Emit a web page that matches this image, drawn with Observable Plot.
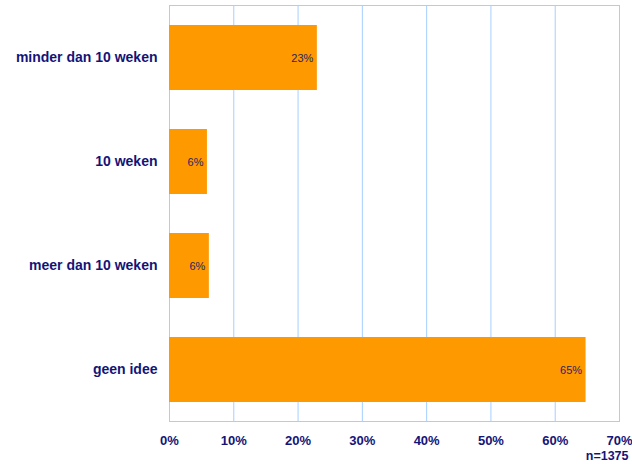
<!DOCTYPE html>
<html><head><meta charset="utf-8">
<script src="https://cdn.jsdelivr.net/npm/d3@7"></script>
<script src="https://cdn.jsdelivr.net/npm/@observablehq/plot@0.6"></script>
<style>
body{margin:0;background:#fff;}
svg{font-family:Arial,"Liberation Sans",sans-serif;}
</style></head>
<body><div id="chart"></div>
<script>
const categories = ["minder dan 10 weken", "10 weken", "meer dan 10 weken", "geen idee"];
const values = [23.0, 5.9, 6.2, 64.8];
const valueLabels = ["23%", "6%", "6%", "65%"];
const xTicks = [0, 10, 20, 30, 40, 50, 60, 70];
const note = "n=1375";

const data = categories.map((c, i) => ({cat: c, v: values[i], lab: valueLabels[i]}));
const navy = "#141478";
const grid = "#a6cfff";

const chart = Plot.plot({
  width: 632, height: 464,
  marginLeft: 169, marginRight: 13, marginTop: 5, marginBottom: 43,
  x: {domain: [0, 70], ticks: xTicks, tickFormat: d => d + "%", label: null},
  y: {domain: categories, paddingInner: 0.375, paddingOuter: 0.1875, label: null},
  marks: [
    Plot.ruleX(xTicks, {stroke: grid, strokeWidth: 1}),
    Plot.frame({stroke: grid, strokeWidth: 1}),
    Plot.barX(data, {x: "v", y: "cat", fill: "#ff9900"}),
    Plot.text(data, {x: "v", y: "cat", text: "lab", textAnchor: "end", dx: -4, fill: "#262660", fontSize: 11}),
    Plot.axisX({ticks: xTicks, tickFormat: d => d + "%", tickSize: 0, tickPadding: 14, fontSize: 13, fontWeight: "bold", color: navy, label: null}),
    Plot.axisY({tickSize: 0, tickPadding: 12, fontSize: 14, fontWeight: "bold", color: navy, label: null}),
    Plot.text([note], {frameAnchor: "bottom-right", textAnchor: "end", dx: 9, dy: 38, fontSize: 12.5, fontWeight: "bold", fill: navy})
  ]
});
document.getElementById("chart").appendChild(chart);
</script></body></html>
